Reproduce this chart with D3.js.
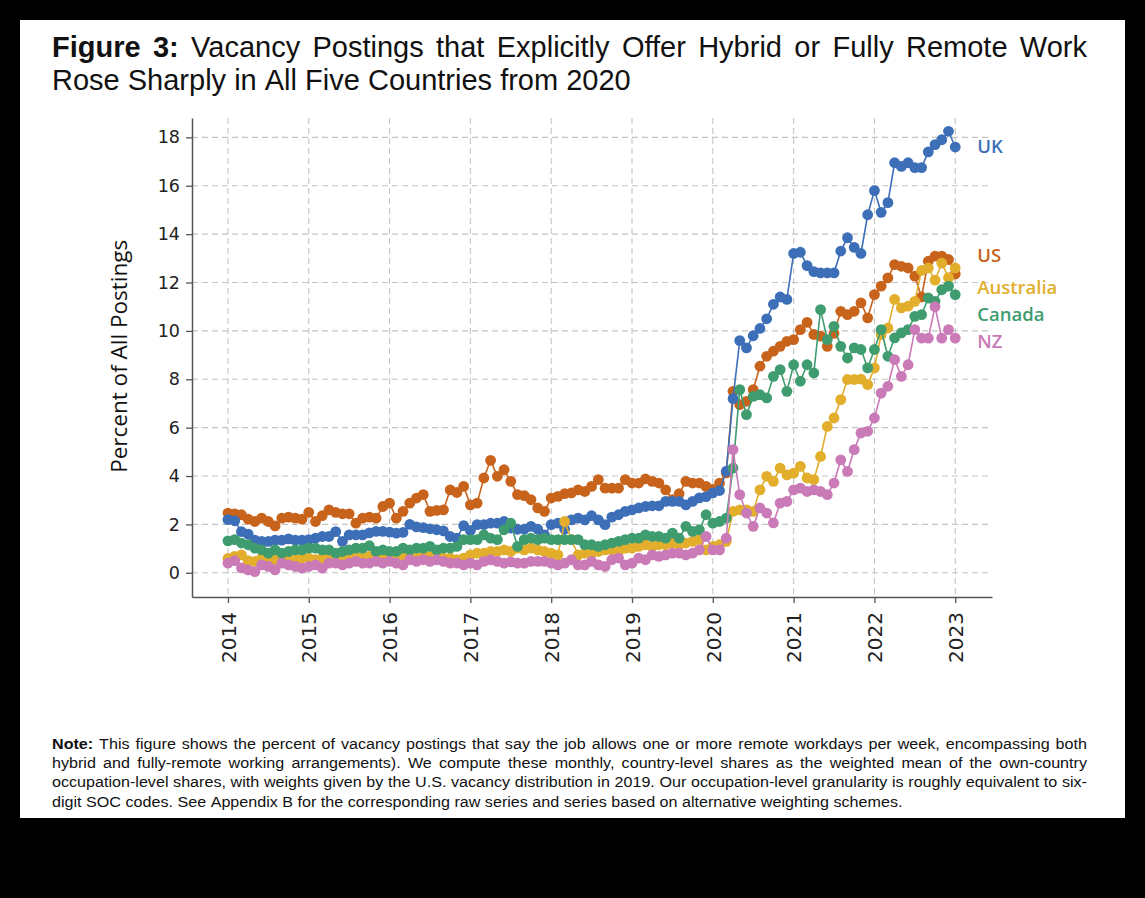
<!DOCTYPE html>
<html><head><meta charset="utf-8">
<script src="https://cdn.jsdelivr.net/npm/d3@7"></script>
<style>
html,body{margin:0;padding:0;background:#000;}
svg{display:block;}
</style></head>
<body>
<svg id="chart" width="1145" height="898"></svg>
<script>
// ---------- DATA ----------
const years = [2014, 2015, 2016, 2017, 2018, 2019, 2020, 2021, 2022, 2023];
const yTicks = [0, 2, 4, 6, 8, 10, 12, 14, 16, 18];
const seriesNames = ["UK", "US", "Australia", "Canada", "NZ"];
// monthly values, Jan 2014 .. Jan 2023 (109 months)
const uk = [
 2.2,2.15,1.7,1.6,1.35,1.3,1.3,1.35,1.35,1.4,1.35,1.35,
 1.37,1.43,1.5,1.5,1.7,1.3,1.57,1.57,1.57,1.65,1.71,1.71,
 1.68,1.64,1.67,2.0,1.9,1.87,1.82,1.78,1.73,1.5,1.43,1.95,
 1.75,1.99,1.99,2.05,2.05,2.12,1.85,1.8,1.8,1.92,1.8,1.57,
 1.99,2.05,1.8,2.19,2.26,2.19,2.36,2.19,1.99,2.3,2.4,2.54,
 2.6,2.68,2.74,2.77,2.77,2.95,2.95,2.95,2.81,2.95,3.1,3.15,
 3.3,3.4,4.2,7.2,9.6,9.3,9.8,10.1,10.5,11.1,11.4,11.3,
 13.2,13.25,12.7,12.45,12.4,12.4,12.4,13.3,13.85,13.45,13.2,14.8,
 15.8,14.9,15.3,16.95,16.8,16.95,16.75,16.75,17.4,17.7,17.9,18.25,
 17.6];
const us = [
 2.47,2.44,2.4,2.22,2.12,2.26,2.12,1.94,2.26,2.3,2.26,2.22,
 2.5,2.12,2.36,2.6,2.5,2.44,2.44,2.05,2.26,2.3,2.26,2.74,
 2.88,2.26,2.54,2.88,3.09,3.23,2.54,2.58,2.6,3.43,3.32,3.57,
 2.81,2.88,3.92,4.65,3.99,4.26,3.78,3.23,3.19,3.02,2.68,2.54,
 3.09,3.16,3.27,3.3,3.43,3.36,3.57,3.85,3.5,3.5,3.5,3.85,
 3.71,3.71,3.88,3.78,3.71,3.43,3.02,3.27,3.78,3.71,3.71,3.57,
 3.45,3.71,4.13,7.5,6.95,7.09,7.57,8.54,8.95,9.16,9.36,9.57,
 9.64,10.05,10.35,9.85,9.78,9.36,9.9,10.81,10.67,10.81,11.16,10.54,
 11.5,11.85,12.19,12.74,12.67,12.6,12.26,11.4,12.88,13.09,13.09,12.95,
 12.35];
const australia = [
 0.6,0.68,0.74,0.5,0.47,0.61,0.47,0.54,0.61,0.54,0.54,0.61,
 0.61,0.54,0.61,0.68,0.61,0.61,0.61,0.68,0.61,0.68,0.61,0.68,
 0.61,0.47,0.68,0.61,0.61,0.68,0.68,0.68,0.61,0.61,0.54,0.61,
 0.74,0.81,0.81,0.88,0.88,0.95,0.88,1.02,0.95,1.02,0.95,0.88,
 0.81,0.74,2.12,1.37,0.74,0.81,0.81,0.88,0.95,0.95,0.88,1.02,
 1.02,1.09,1.16,1.09,1.16,1.16,1.23,1.16,1.23,1.3,1.37,0.95,
 1.09,1.16,1.3,2.54,2.6,2.6,2.54,3.43,3.99,3.78,4.33,4.05,
 4.12,4.4,3.92,3.85,4.81,6.05,6.4,7.16,7.99,7.99,8.01,7.78,
 8.47,9.85,10.12,11.3,10.95,11.02,11.22,12.5,12.6,12.1,12.8,12.2,
 12.6];
const canada = [
 1.32,1.37,1.23,1.16,1.02,0.95,0.81,0.95,0.81,0.88,0.95,0.95,
 1.02,1.02,0.95,0.95,0.81,0.88,0.95,1.02,1.02,1.12,0.88,0.95,
 0.88,0.88,1.02,0.95,1.02,1.02,1.09,0.95,1.02,1.02,1.09,1.37,
 1.37,1.37,1.57,1.43,1.37,1.78,2.05,1.09,1.37,1.43,1.37,1.43,
 1.37,1.37,1.37,1.37,1.37,1.16,1.16,1.09,1.16,1.23,1.3,1.37,
 1.43,1.43,1.57,1.5,1.5,1.43,1.64,1.43,1.92,1.71,1.78,2.4,
 2.05,2.12,2.26,4.33,7.57,6.54,7.29,7.36,7.23,8.12,8.4,7.5,
 8.6,7.92,8.6,8.26,10.88,9.64,10.19,9.36,8.88,9.3,9.23,8.47,
 9.23,10.05,8.95,9.71,9.92,10.05,10.6,10.67,11.36,11.22,11.7,11.85,
 11.5];
const nz = [
 0.4,0.5,0.2,0.12,0.05,0.33,0.26,0.12,0.4,0.33,0.26,0.19,
 0.26,0.33,0.19,0.4,0.4,0.33,0.4,0.47,0.4,0.4,0.47,0.4,
 0.47,0.4,0.33,0.54,0.47,0.54,0.47,0.54,0.47,0.4,0.4,0.33,
 0.4,0.33,0.47,0.54,0.47,0.4,0.45,0.4,0.4,0.47,0.47,0.47,
 0.4,0.33,0.4,0.54,0.33,0.33,0.47,0.33,0.26,0.54,0.61,0.33,
 0.4,0.61,0.54,0.74,0.68,0.74,0.81,0.81,0.74,0.81,0.95,1.5,
 0.95,0.95,1.43,5.09,3.23,2.47,1.92,2.68,2.47,2.06,2.88,2.95,
 3.43,3.5,3.36,3.43,3.36,3.23,3.71,4.67,4.19,5.09,5.78,5.85,
 6.4,7.43,7.71,8.81,8.12,8.6,10.05,9.7,9.7,11.0,9.7,10.05,
 9.7];
const seriesValues = [uk, us, australia, canada, nz];

const titleBold = "Figure 3:";
const titleLine1 = "Vacancy Postings that Explicitly Offer Hybrid or Fully Remote Work";
const titleLine2 = "Rose Sharply in All Five Countries from 2020";
const yAxisTitle = "Percent of All Postings";
const noteBold = "Note:";
const noteLines = [
 "This figure shows the percent of vacancy postings that say the job allows one or more remote workdays per week, encompassing both",
 "hybrid and fully-remote working arrangements). We compute these monthly, country-level shares as the weighted mean of the own-country",
 "occupation-level shares, with weights given by the U.S. vacancy distribution in 2019. Our occupation-level granularity is roughly equivalent to six-",
 "digit SOC codes. See Appendix B for the corresponding raw series and series based on alternative weighting schemes."
];

// ---------- STYLE ----------
const colors = {UK:"#3d6fb8", US:"#c8631c", Australia:"#e2ae2c", Canada:"#3e9c6e", NZ:"#c97ab7"};
const labelValue = {UK:17.64, US:13.1, Australia:11.8, Canada:10.66, NZ:9.54};
const drawOrder = ["US", "UK", "Australia", "Canada", "NZ"];
const textFont = "Liberation Sans, Arial, sans-serif";

const svg = d3.select("#chart");
svg.append("rect").attr("x",20).attr("y",20).attr("width",1105).attr("height",798).attr("fill","#fff");

const x = d3.scaleLinear().domain([2013.555, 2023.455]).range([192, 992]);
const y = d3.scaleLinear().domain([-1, 18.8]).range([597, 118]);

// grid
const grid = svg.append("g").attr("stroke","#c4c4c4").attr("stroke-width",1.1).attr("stroke-dasharray","6,4");
grid.selectAll("line.h").data(yTicks).join("line").attr("class","h")
  .attr("x1", x.range()[0]).attr("x2", x.range()[1]).attr("y1", d=>y(d)).attr("y2", d=>y(d));
grid.selectAll("line.v").data(years).join("line").attr("class","v")
  .attr("x1", d=>x(d)).attr("x2", d=>x(d)).attr("y1", y.range()[1]).attr("y2", y.range()[0]);

// axes
const yAxis = svg.append("g").attr("transform",`translate(${x.range()[0]},0)`)
  .call(d3.axisLeft(y).tickValues(yTicks).tickSize(6).tickSizeOuter(0).tickPadding(6));
yAxis.select(".domain").attr("stroke","#555").attr("stroke-width",1.5);
yAxis.selectAll(".tick line").attr("stroke","#555").attr("stroke-width",1.3);
yAxis.selectAll(".tick text").attr("font-family","DejaVu Sans").attr("font-size",17.5).attr("fill","#222");

const xAxis = svg.append("g").attr("transform",`translate(0,${y.range()[0]})`)
  .call(d3.axisBottom(x).tickValues(years).tickFormat(d3.format("d")).tickSize(6).tickSizeOuter(0));
xAxis.select(".domain").attr("stroke","#555").attr("stroke-width",1.5);
xAxis.selectAll(".tick line").attr("stroke","#555").attr("stroke-width",1.3);
xAxis.selectAll(".tick text").attr("font-family","DejaVu Sans").attr("font-size",20).attr("fill","#222")
  .attr("transform","rotate(-90)").attr("text-anchor","end").attr("dy","0.36em").attr("x",-15).attr("y",0);

// y axis title
svg.append("text").attr("transform",`translate(127,${y(8.95)}) rotate(-90)`)
  .attr("text-anchor","middle").attr("font-family","Open Sans").attr("font-size",22.5).attr("fill","#111")
  .text(yAxisTitle);

// series
const months = uk.map((_, i) => 2014 + i / 12);
const line = d3.line().x((d,i)=>x(months[i])).y(d=>y(d));
drawOrder.forEach(name => {
  const vals = seriesValues[seriesNames.indexOf(name)];
  const g = svg.append("g");
  g.append("path").attr("d", line(vals)).attr("fill","none").attr("stroke",colors[name]).attr("stroke-width",1.6);
  g.selectAll("circle").data(vals).join("circle")
    .attr("cx",(d,i)=>x(months[i])).attr("cy",d=>y(d)).attr("r",5.4).attr("fill",colors[name]);
});

// labels
seriesNames.forEach(name => {
  svg.append("text").attr("x", x(2023)+22).attr("y", y(labelValue[name])).attr("dy","0.35em")
    .attr("font-family","Open Sans").attr("font-weight",600).attr("font-size",18.5).attr("fill",colors[name]).text(name);
});

// text helpers
function measure(str, size, bold){
  const t = svg.append("text").attr("font-family",textFont).attr("font-size",size)
    .attr("font-weight",bold?"bold":"normal").text(str);
  const w = t.node().getComputedTextLength(); t.remove(); return w;
}
function placeLine(boldPart, text, x0, x1, yb, size, justify, sx){
  const g = svg.append("g").attr("transform",`translate(${x0},${yb}) scale(${sx},1)`);
  const words = [];
  if (boldPart) boldPart.split(" ").forEach(w=>words.push({t:w,b:true}));
  text.split(" ").forEach(w=>words.push({t:w,b:false}));
  const nodes = words.map(w => g.append("text").attr("y",0).attr("font-family",textFont)
     .attr("font-size",size).attr("font-weight",w.b?"bold":"normal").attr("fill","#111").text(w.t));
  const widths = nodes.map(n=>n.node().getComputedTextLength());
  const total = d3.sum(widths);
  const avail = (x1-x0)/sx;
  const gap = justify ? (avail-total)/(nodes.length-1) : size*0.278;
  let cx = 0;
  nodes.forEach((n,i)=>{ n.attr("x",cx); cx += widths[i]+gap; });
}
placeLine(titleBold, titleLine1, 52, 1087, 57, 29, true, 1);
placeLine(null, titleLine2, 52, 1087, 90, 29, false, 1);
const noteSize = 15;
const noteSx = (902-52) / measure(noteLines[3], noteSize, false);
noteLines.forEach((l,i)=>{
  placeLine(i===0?noteBold:null, l, 52, 1087, 749 + i*19.2, noteSize, i<3, noteSx);
});
</script>
</body></html>
